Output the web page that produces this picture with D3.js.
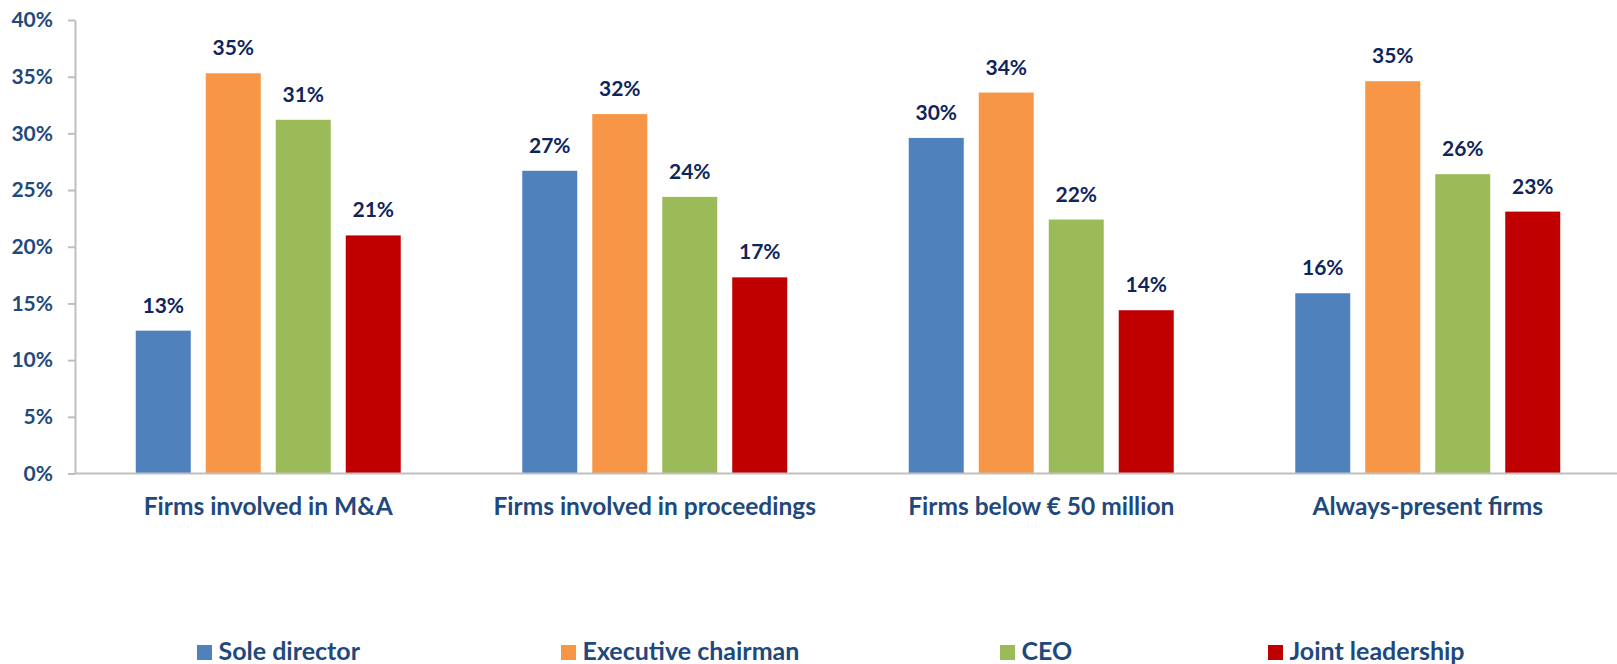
<!DOCTYPE html>
<html>
<head>
<meta charset="utf-8">
<script src="https://cdn.jsdelivr.net/npm/d3@7"></script>
<style>
  body { margin: 0; background: #fff; }
  svg { display: block; font-family: Lato, "Open Sans", sans-serif; font-weight: bold; }
</style>
</head>
<body>
<svg id="chart" width="1617" height="664"></svg>
<script>
const categories = ["Firms involved in M&A", "Firms involved in proceedings", "Firms below € 50 million", "Always-present firms"];
const seriesNames = ["Sole director", "Executive chairman", "CEO", "Joint leadership"];
const soleDirector = [12.6, 26.7, 29.6, 15.9];
const executiveChairman = [35.3, 31.7, 33.6, 34.6];
const ceo = [31.2, 24.4, 22.4, 26.4];
const jointLeadership = [21.0, 17.3, 14.4, 23.1];
const yTicks = [0, 5, 10, 15, 20, 25, 30, 35, 40];

const seriesValues = [soleDirector, executiveChairman, ceo, jointLeadership];
const colors = ["#4F81BD", "#F79646", "#9BBB59", "#C00000"];
const legendX = [197, 561, 1000, 1268]; // excel legend spacing is uneven

const svg = d3.select("#chart");
const margin = { top: 20, left: 75 };
const height = 453.5;
const width = 1546;

const g = svg.append("g").attr("transform", `translate(${margin.left},${margin.top})`);

const x0 = d3.scaleBand().domain(categories).range([0, width]);
const x1 = d3.scaleBand().domain(seriesNames)
  .range([0, x0.bandwidth()])
  .paddingInner(0.2143)
  .paddingOuter(0.868);
const y = d3.scaleLinear().domain([0, 40]).range([height, 0]);

// y axis
const yAxis = g.append("g")
  .call(d3.axisLeft(y).tickValues(yTicks).tickFormat(d => d + "%").tickSize(7).tickPadding(15).tickSizeOuter(0));
yAxis.select(".domain").attr("stroke", "#BFBFBF").attr("stroke-width", 2);
yAxis.selectAll(".tick line").attr("stroke", "#BFBFBF").attr("stroke-width", 2);
yAxis.selectAll(".tick text")
  .attr("fill", "#1F497D")
  .style("font-size", "21px")
  .style("font-family", "Lato, sans-serif")
  .style("font-weight", "bold");

// bars
const rows = categories.map((c, i) => ({
  cat: c,
  vals: seriesNames.map((s, j) => ({ key: s, value: seriesValues[j][i], color: colors[j] }))
}));

const grp = g.selectAll(".grp").data(rows).enter().append("g")
  .attr("transform", d => `translate(${x0(d.cat)},0)`);

grp.selectAll("rect").data(d => d.vals).enter().append("rect")
  .attr("x", d => x1(d.key))
  .attr("width", x1.bandwidth())
  .attr("y", d => y(d.value))
  .attr("height", d => height - y(d.value))
  .attr("fill", d => d.color);

grp.selectAll(".val").data(d => d.vals).enter().append("text")
  .attr("class", "val")
  .attr("x", d => x1(d.key) + x1.bandwidth() / 2)
  .attr("y", d => y(d.value) - 18)
  .attr("text-anchor", "middle")
  .attr("fill", "#10245C")
  .style("font-size", "21px")
  .text(d => Math.round(d.value) + "%");

// x axis line
g.append("line")
  .attr("x1", 0).attr("x2", width)
  .attr("y1", height).attr("y2", height)
  .attr("stroke", "#BFBFBF")
  .attr("stroke-width", 2);

g.selectAll(".cat").data(categories).enter().append("text")
  .attr("class", "cat")
  .attr("x", d => x0(d) + x0.bandwidth() / 2)
  .attr("y", height + 41.5)
  .attr("text-anchor", "middle")
  .attr("fill", "#1F497D")
  .style("font-size", "24.5px")
  .text(d => d);

// legend at the bottom, partly cut off like the original
const legend = svg.append("g").attr("class", "legend");
seriesNames.forEach((name, i) => {
  const item = legend.append("g").attr("transform", `translate(${legendX[i]}, 645)`);
  item.append("rect")
    .attr("width", 15)
    .attr("height", 15)
    .attr("fill", colors[i]);
  item.append("text")
    .attr("x", 21.5)
    .attr("y", 15)
    .attr("fill", "#1F497D")
    .style("font-size", "25px")
    .text(name);
});
</script>
</body>
</html>
